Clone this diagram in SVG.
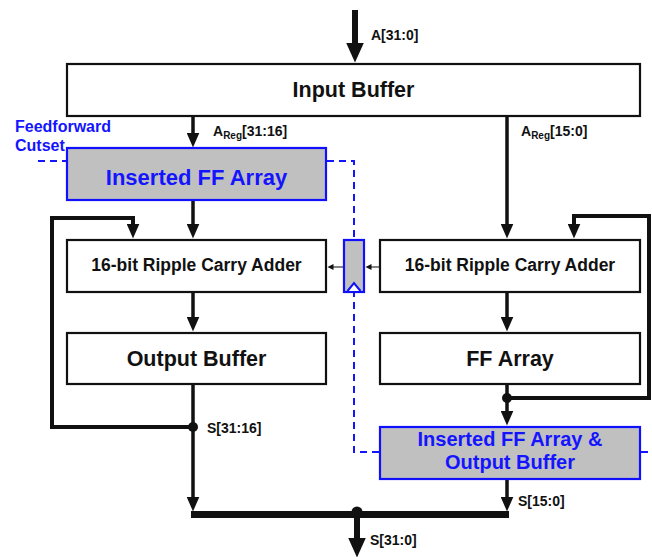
<svg xmlns="http://www.w3.org/2000/svg" width="652" height="557" viewBox="0 0 652 557">
<style>
.box{fill:#fff;stroke:#111;stroke-width:2.2}
.ins{fill:#c0c0c0;stroke:#1010ff;stroke-width:2.2}
.t{font-family:"Liberation Sans",Arial,sans-serif;font-weight:bold;fill:#111;text-anchor:middle}
.tb{font-family:"Liberation Sans",Arial,sans-serif;font-weight:bold;fill:#1414ff;text-anchor:middle}
.lbl{font-family:"Liberation Sans",Arial,sans-serif;font-weight:bold;fill:#111;font-size:14px}
.w{fill:none;stroke:#111;stroke-width:3.5}
.wl{fill:none;stroke:#111;stroke-width:4}
.thin{fill:none;stroke:#333;stroke-width:1.2}
.dash{fill:none;stroke:#1414ff;stroke-width:2;stroke-dasharray:7 5}
</style>
<defs>
<marker id="ah" markerUnits="userSpaceOnUse" markerWidth="16" markerHeight="13" refX="0.5" refY="6.5" orient="auto"><path d="M0,0 L15,6.5 L0,13 z" fill="#111"/></marker>
<marker id="big" markerUnits="userSpaceOnUse" markerWidth="21" markerHeight="18" refX="0.5" refY="9" orient="auto"><path d="M0,0 L20,9 L0,18 z" fill="#111"/></marker>
<marker id="sm" markerUnits="userSpaceOnUse" markerWidth="7" markerHeight="7" refX="0.5" refY="3" orient="auto"><path d="M0,0 L6,3 L0,6 z" fill="#111"/></marker>
</defs>

<g id="connectors">
  <!-- input -->
  <line x1="355" y1="10" x2="355" y2="43" stroke="#111" stroke-width="6" marker-end="url(#big)"/>
  <!-- A_Reg[31:16] -->
  <line class="w" x1="193" y1="116" x2="193" y2="133" marker-end="url(#ah)"/>
  <!-- A_Reg[15:0] -->
  <line class="w" x1="507" y1="116" x2="507" y2="224" marker-end="url(#ah)"/>
  <!-- FF array to RCA left -->
  <line class="w" x1="193" y1="200" x2="193" y2="224" marker-end="url(#ah)"/>
  <!-- RCA to output buffer -->
  <line class="w" x1="193" y1="292" x2="193" y2="317" marker-end="url(#ah)"/>
  <line class="w" x1="507" y1="292" x2="507" y2="317" marker-end="url(#ah)"/>
  <!-- left feedback -->
  <path class="wl" d="M193,427 H52 V218 H133 V224" marker-end="url(#ah)"/>
  <!-- right feedback -->
  <path class="wl" d="M507,398 H649 V216 H574 V224" marker-end="url(#ah)"/>
  <!-- FF Array to inserted -->
  <line class="w" x1="507" y1="384" x2="507" y2="411" marker-end="url(#ah)"/>
  <!-- outputs -->
  <line class="w" x1="193" y1="384" x2="193" y2="497" marker-end="url(#ah)"/>
  <line class="w" x1="507" y1="479" x2="507" y2="497" marker-end="url(#ah)"/>
  <rect x="191" y="511" width="318" height="7" fill="#111"/>
  <line x1="357" y1="514" x2="357" y2="538" stroke="#111" stroke-width="6" marker-end="url(#big)"/>
  <circle cx="193" cy="427" r="5" fill="#111"/>
  <circle cx="507" cy="398" r="5" fill="#111"/>
  <circle cx="357" cy="512" r="5.5" fill="#111"/>
  <!-- carry path -->
  <line class="thin" x1="380" y1="267" x2="371" y2="267" marker-end="url(#sm)"/>
  <line class="thin" x1="344" y1="267" x2="333" y2="267" marker-end="url(#sm)"/>
  <!-- cutset -->
  <path class="dash" d="M38,161 H67"/>
  <path class="dash" d="M327,161 H354 V452 H380"/>
  <path class="dash" d="M641,452 H652"/>
</g>

<g id="labels">
  <text class="lbl" x="371" y="40">A[31:0]</text>
  <text class="lbl" x="213" y="136">A<tspan font-size="10" dy="3">Reg</tspan><tspan dy="-3">[31:16]</tspan></text>
  <text class="lbl" x="521" y="136">A<tspan font-size="10" dy="3">Reg</tspan><tspan dy="-3">[15:0]</tspan></text>
  <text class="lbl" x="207" y="433">S[31:16]</text>
  <text class="lbl" x="518" y="506">S[15:0]</text>
  <text class="lbl" x="370" y="545">S[31:0]</text>
  <text font-family="Liberation Sans, Arial, sans-serif" font-weight="bold" font-size="16" fill="#1414ff" x="15" y="132">Feedforward</text>
  <text font-family="Liberation Sans, Arial, sans-serif" font-weight="bold" font-size="16" fill="#1414ff" x="15" y="151">Cutset</text>
</g>

<g id="input-buffer">
  <rect class="box" x="67" y="64" width="573" height="52"/>
  <text class="t" x="353.5" y="97" font-size="21.5">Input Buffer</text>
</g>
<g id="inserted-ff-array">
  <rect class="ins" x="67" y="148" width="259" height="52"/>
  <text class="tb" x="196.5" y="185" font-size="22">Inserted FF Array</text>
</g>
<g id="rca-left">
  <rect class="box" x="67" y="240" width="259" height="52"/>
  <text class="t" x="196.5" y="271" font-size="17.5">16-bit Ripple Carry Adder</text>
</g>
<g id="carry-ff">
  <rect class="ins" x="344" y="240" width="20" height="52"/>
  <polyline points="347.5,291 354,283 360.5,291" fill="#fff" stroke="#1010ff" stroke-width="2"/>
</g>
<g id="rca-right">
  <rect class="box" x="380" y="240" width="260" height="52"/>
  <text class="t" x="510" y="271" font-size="17.5">16-bit Ripple Carry Adder</text>
</g>
<g id="output-buffer">
  <rect class="box" x="67" y="333" width="259" height="51"/>
  <text class="t" x="196.5" y="366" font-size="21.5">Output Buffer</text>
</g>
<g id="ff-array">
  <rect class="box" x="380" y="333" width="260" height="51"/>
  <text class="t" x="510" y="366" font-size="21.5">FF Array</text>
</g>
<g id="inserted-ff-output-buffer">
  <rect class="ins" x="380" y="427" width="260" height="52"/>
  <text class="tb" x="510" y="446" font-size="20">Inserted FF Array &amp;</text>
  <text class="tb" x="510" y="469" font-size="20">Output Buffer</text>
</g>
</svg>
